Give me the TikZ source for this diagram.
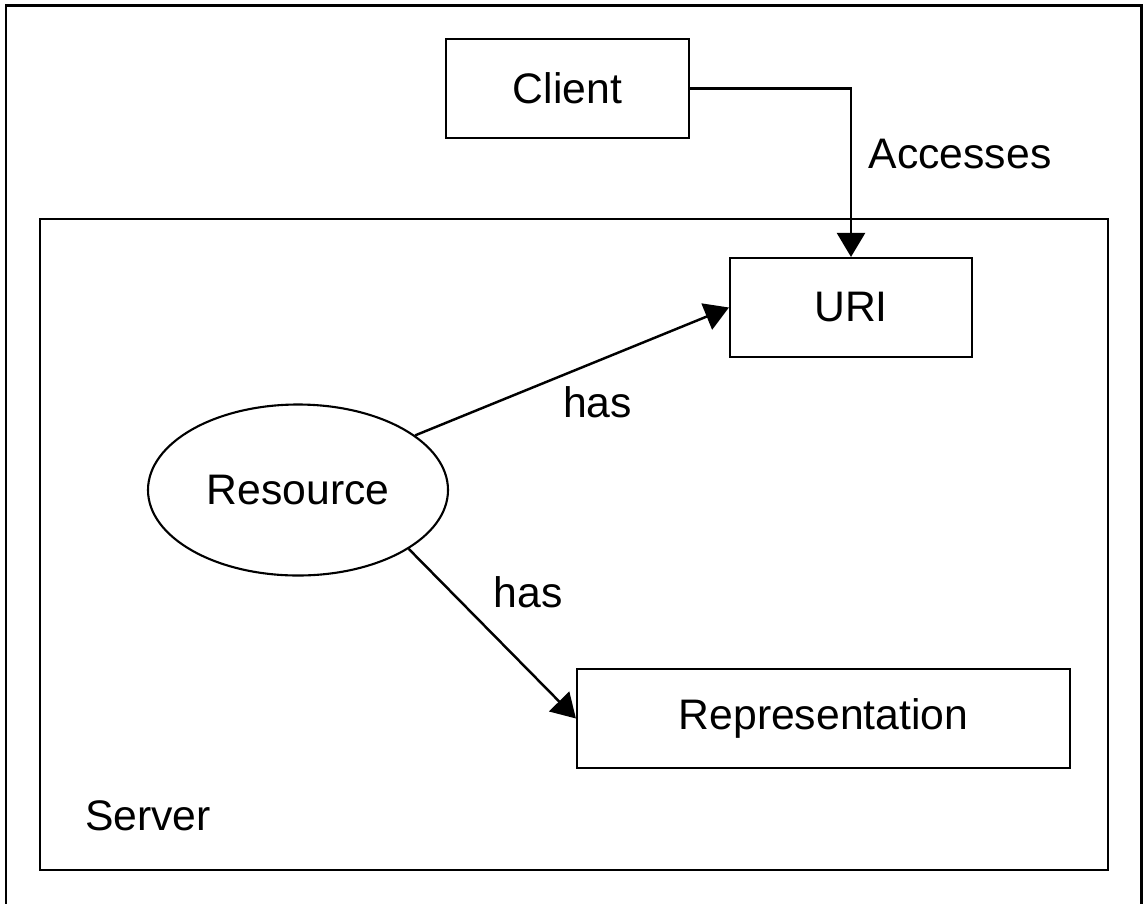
\documentclass[tikz,border=0pt]{standalone}
\usepackage{fontspec}
\setmainfont{Liberation Sans}
\usetikzlibrary{shapes.geometric,arrows.meta}

\begin{document}
\begin{tikzpicture}[
		>={Triangle[length=4.8mm,width=5.6mm]},
		font=\fontsize{24.3}{29}\selectfont,
		box/.style={draw,line width=1.2pt,minimum height=1.98cm,inner sep=0pt},
		link/.style={->,line width=1.4pt}]
		\useasboundingbox (0,0) rectangle (22.86,-18.06);
		% outer frame, open at the bottom
		\draw[line width=1.4pt] (0.12,-18.2) -- (0.12,-0.11) -- (22.83,-0.11) -- (22.83,-18.2);
		\draw[color=black, line width=1.2pt]
		node[box,minimum width=21.36cm,minimum height=13.02cm] (server) at (11.48,-10.89){}
		node[box,minimum width=4.86cm] (client) at (11.35,-1.77){Client}
		node[box,minimum width=4.84cm] (uri) at    (17.02,-6.15){URI}
		node[box,minimum width=9.86cm] (repr) at   (16.47,-14.37){Representation}
		node[draw,ellipse,minimum width=6cm,minimum height=3.42cm,inner sep=0pt] (resource) at (5.96,-9.8){Resource};
		\node (serverlabel) at (2.96,-16.31) {Server};
		\draw [link] (client.east) -| (uri.north);
		\draw [link] (resource.25) -- (uri.west);
		\draw [link] (resource.-28) -- (repr.west);
		\node (accesses) at (19.2,-3.08)  {Accesses};
		\node (hasuri) at   (11.95,-8.05) {has};
		\node (hasrepr) at  (10.56,-11.84) {has};
		\end{tikzpicture}
\end{document}
